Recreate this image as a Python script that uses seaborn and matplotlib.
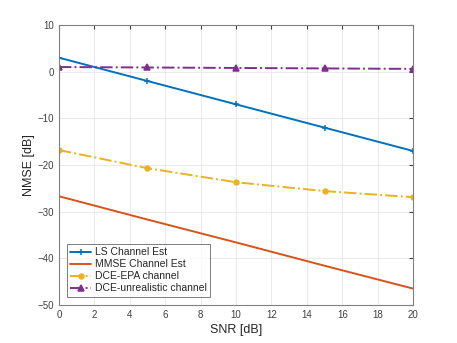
import matplotlib
matplotlib.use("Agg")
from matplotlib import pyplot as plt
import pandas as pd
import seaborn as sns

snr = [0, 5, 10, 15, 20]
ls_est = [3.0, -2.0, -7.0, -12.0, -17.0]
mmse_est = [-26.7, -31.7, -36.6, -41.6, -46.5]
dce_epa = [-16.8, -20.7, -23.7, -25.6, -26.9]
dce_unreal = [1.0, 0.9, 0.8, 0.7, 0.6]

labels = ["LS Channel Est", "MMSE Channel Est", "DCE-EPA channel", "DCE-unrealistic channel"]
colors = ["#0072BD", "#D95319", "#EDB120", "#7E2F8E"]
markers = ["+", None, "o", "^"]
styles = ["-", "-", "-.", "-."]
msizes = [5, 0, 3.5, 5]

sns.set_style("white")
plt.rcParams["font.family"] = ["Liberation Sans", "DejaVu Sans"]

fig = plt.figure(figsize=(4.57, 3.43), dpi=100)
ax = fig.add_axes([0.129, 0.111, 0.775, 0.816])

for lab, vals, c, m, ls, ms in zip(labels, [ls_est, mmse_est, dce_epa, dce_unreal],
                                   colors, markers, styles, msizes):
    df = pd.DataFrame({"snr": snr, "nmse": vals})
    sns.lineplot(data=df, x="snr", y="nmse", ax=ax, color=c, label=lab,
                 marker=m, markersize=ms, linestyle=ls, linewidth=1.4,
                 markeredgecolor=c, markerfacecolor=c, markeredgewidth=1.1)

ax.set_xlim(0, 20)
ax.set_ylim(-50, 10)
ax.set_xticks(range(0, 21, 2))
ax.set_yticks(range(-50, 11, 10))
ax.grid(True, color="#e6e6e6", linewidth=0.6)
ax.tick_params(direction="in", labelsize=7, colors="#404040", length=3,
               top=True, right=True)
for s in ax.spines.values():
    s.set_color("#808080")
    s.set_linewidth(0.8)
ax.set_xlabel("SNR [dB]", fontsize=9, color="#262626", labelpad=3)
ax.set_ylabel("NMSE [dB]", fontsize=9, color="#262626", labelpad=2)

leg = ax.legend(loc="lower left", fontsize=7.5, frameon=True, fancybox=False,
                edgecolor="#404040", borderpad=0.3, labelspacing=0.2,
                handlelength=2.0, handletextpad=0.4, borderaxespad=0.8)
leg.get_frame().set_linewidth(0.6)

fig.savefig("out.png", dpi=100)
